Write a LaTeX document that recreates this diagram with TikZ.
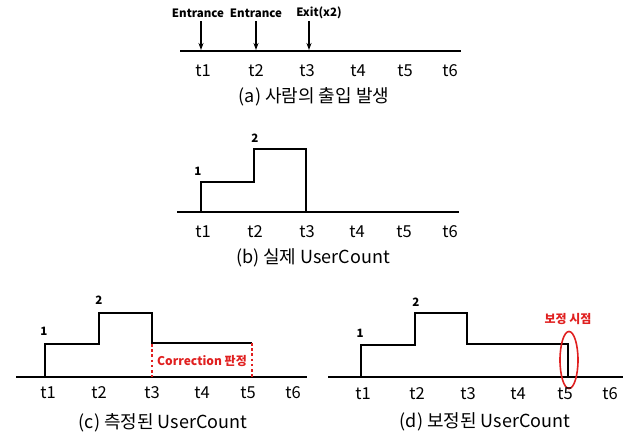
\documentclass[tikz,border=0pt]{standalone}
\usepackage{fontspec}
\setmainfont{Noto Sans CJK KR}
\usetikzlibrary{arrows.meta,shapes.geometric}
\definecolor{hotred}{RGB}{224,32,32}
\tikzset{
  axis/.style={line width=2pt},
  signal/.style={line width=2pt, line join=miter},
  arr/.style={line width=1.2pt, -{Stealth[length=7pt,width=5pt]}},
  ticklbl/.style={font=\fontsize{16.5}{16.5}\selectfont, inner sep=0pt},
  captext/.style={font=\fontsize{18}{18}\selectfont, inner sep=0pt},
  evt/.style={font=\bfseries\fontsize{11.5}{12}\selectfont, inner sep=0pt},
  lvl/.style={font=\bfseries\fontsize{11.5}{12}\selectfont, inner sep=0pt},
  redlbl/.style={font=\bfseries\fontsize{12}{12}\selectfont, inner sep=0pt, text=hotred},
  reddots/.style={draw=hotred, line width=2.6pt, dash pattern=on 2.6pt off 2.6pt},
}
\begin{document}
\begin{tikzpicture}[x=1pt,y=-1pt]
\useasboundingbox (0,0) rectangle (633,434);

% ---------- (a) events on the time line ----------
\coordinate (aL) at (180,51);
\coordinate (aR) at (461,51);
\draw[axis] (aL) -- (aR);
\node[evt] (e1) at (198,13) {Entrance};
\node[evt] (e2) at (256,13) {Entrance};
\node[evt] (e3) at (319,13) {Exit(x2)};
\coordinate (e1s) at (201,21); \coordinate (e1t) at (201,50);
\coordinate (e2s) at (256,21); \coordinate (e2t) at (256,50);
\coordinate (e3s) at (309,21); \coordinate (e3t) at (309,50);
\draw[arr] (e1s) -- (e1t);
\draw[arr] (e2s) -- (e2t);
\draw[arr] (e3s) -- (e3t);
\foreach \x/\t in {203/t1,256/t2,307/t3,358/t4,405/t5,450/t6}
  \node[ticklbl] (a\t) at (\x,71) {\t};
\node[captext] (capa) at (314,97) {(a) 사람의 출입 발생};

% ---------- (b) actual count ----------
\coordinate (bL) at (177,212);
\coordinate (bR) at (459,212);
\draw[axis] (bL) -- (bR);
\draw[signal] (201,212) -- (201,182) -- (254,182) -- (254,149) -- (306,149) -- (306,212);
\node[lvl] (b1) at (198,171) {1};
\node[lvl] (b2) at (255,138) {2};
\foreach \x/\t in {203/t1,255/t2,307/t3,357/t4,404/t5,450/t6}
  \node[ticklbl] (b\t) at (\x,232) {\t};
\node[captext] (capb) at (313,258) {(b) 실제 UserCount};

% ---------- (c) measured count ----------
\coordinate (cL) at (16,377);
\coordinate (cR) at (307,377);
\draw[axis] (cL) -- (cR);
\draw[signal] (45,377) -- (45,344) -- (99,344) -- (99,313) -- (152,313) -- (152,343) -- (252,343);
\coordinate (cA) at (152,344); \coordinate (cAb) at (152,377);
\coordinate (cB) at (252,343); \coordinate (cBb) at (252,377);
\draw[reddots] (cA) -- (cAb);
\draw[reddots] (cB) -- (cBb);
\node[redlbl] (corr) at (202,361) {Correction 판정};
\node[lvl] (c1) at (44,331) {1};
\node[lvl] (c2) at (99,300) {2};
\foreach \x/\t in {48/t1,99/t2,152/t3,202/t4,248/t5,293/t6}
  \node[ticklbl] (c\t) at (\x,393) {\t};
\node[captext] (capc) at (163,423) {(c) 측정된 UserCount};

% ---------- (d) corrected count ----------
\coordinate (dL) at (328,377);
\coordinate (dR) at (623,377);
\draw[axis] (dL) -- (dR);
\draw[signal] (361,377) -- (361,345) -- (415,345) -- (415,313) -- (467,313) -- (467,344) -- (568,344) -- (568,377);
\node[draw=hotred, line width=1.6pt, ellipse, minimum width=18pt, minimum height=57pt, inner sep=0pt] (fix) at (569,360) {};
\node[redlbl] (fixlbl) at (568,319) {보정 시점};
\node[lvl] (d1) at (360,333) {1};
\node[lvl] (d2) at (416,302) {2};
\foreach \x/\t in {363/t1,417/t2,468/t3,518/t4,565/t5,610/t6}
  \node[ticklbl] (d\t) at (\x,394) {\t};
\node[captext] (capd) at (485,422) {(d) 보정된 UserCount};
\end{tikzpicture}
\end{document}
